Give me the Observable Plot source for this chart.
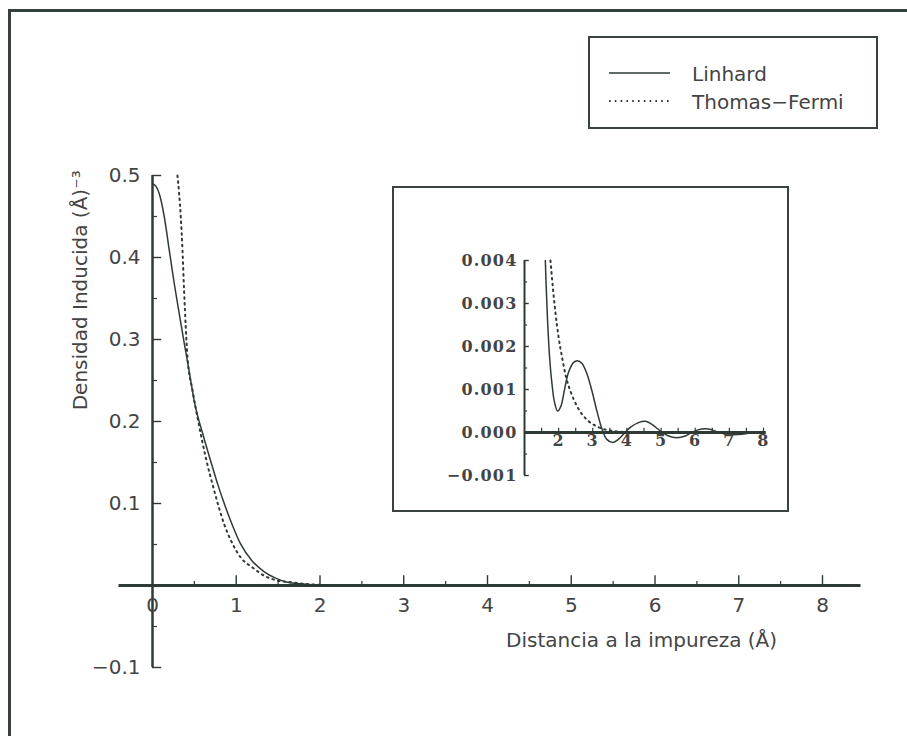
<!DOCTYPE html>
<html>
<head>
<meta charset="utf-8">
<script src="https://cdn.jsdelivr.net/npm/d3@7"></script>
<script src="https://cdn.jsdelivr.net/npm/@observablehq/plot@0.6"></script>
<style>
  html, body { margin: 0; padding: 0; background: #fff; }
  #page { position: relative; width: 907px; height: 736px; overflow: hidden; background: #fff; }
  #frame { position: absolute; left: 8px; top: 9px; width: 1000px; height: 800px;
           border-left: 3px solid #36413b; border-top: 3px solid #36413b; }
  #main { position: absolute; left: 0; top: 0; }
  #legend { position: absolute; left: 588px; top: 36px; width: 290px; height: 93px;
            box-sizing: border-box; border: 2px solid #3a433e; background: #fff; }
  #inset { position: absolute; left: 392px; top: 186px; width: 397px; height: 326px;
           box-sizing: border-box; border: 2px solid #3a433e; background: #fff; }
  #insetPlot { position: absolute; left: 392px; top: 186px; }
</style>
</head>
<body>
<div id="page">
  <div id="frame"></div>
  <div id="main"></div>
  <div id="legend"></div>
  <div id="inset"></div>
  <div id="insetPlot"></div>
</div>
<script>
// Induced electron density around an impurity: Linhard response vs Thomas-Fermi screening.

// Main panel, distance in Å
const linhardMain = [
  [0.00, 0.490], [0.04, 0.487], [0.08, 0.478], [0.14, 0.450], [0.20, 0.409],
  [0.26, 0.368], [0.32, 0.331], [0.38, 0.295], [0.44, 0.260], [0.50, 0.224],
  [0.60, 0.185], [0.70, 0.150], [0.78, 0.123], [0.86, 0.099], [0.96, 0.072],
  [1.05, 0.051], [1.19, 0.030], [1.33, 0.017], [1.47, 0.009], [1.61, 0.004],
  [1.77, 0.002], [1.95, 0.0005], [2.10, 0.0]
];
const thomasFermiMain = [
  [0.298, 0.500], [0.318, 0.478], [0.338, 0.449], [0.358, 0.409], [0.377, 0.360],
  [0.397, 0.315], [0.418, 0.278], [0.478, 0.238], [0.537, 0.205], [0.636, 0.156],
  [0.736, 0.116], [0.855, 0.075], [0.955, 0.051], [1.054, 0.034], [1.194, 0.022],
  [1.333, 0.012], [1.493, 0.006], [1.651, 0.004], [1.81, 0.002], [1.97, 0.001],
  [2.10, 0.0]
];

// Inset: tail of the density, 1–8 Å
const linhardInset = [
  [1.61, 0.00400], [1.64, 0.00330], [1.68, 0.00253], [1.735, 0.00175], [1.805, 0.00113],
  [1.88, 0.00070], [1.97, 0.00050], [2.07, 0.00062], [2.165, 0.00097], [2.29, 0.00140],
  [2.44, 0.00163], [2.55, 0.00167], [2.68, 0.00161], [2.83, 0.00136], [2.975, 0.00097],
  [3.12, 0.00050], [3.27, 0.00008], [3.41, -0.00016], [3.59, -0.00023], [3.75, -0.00016],
  [3.90, -0.00004], [4.10, 0.00012], [4.34, 0.00023], [4.54, 0.00026], [4.73, 0.00019],
  [4.97, 0.00004], [5.22, -0.00008], [5.46, -0.00012], [5.71, -0.00008], [5.95, 0.00002],
  [6.19, 0.00008], [6.39, 0.00008], [6.63, 0.00002], [6.88, -0.00004], [7.12, -0.00005],
  [7.37, -0.00004], [7.61, -0.00001]
];
const thomasFermiInset = [
  [1.76, 0.00400], [1.83, 0.00338], [1.91, 0.00276], [2.00, 0.00221], [2.10, 0.00175],
  [2.22, 0.00128], [2.36, 0.00093], [2.52, 0.00064], [2.68, 0.00043], [2.88, 0.00026],
  [3.12, 0.00014], [3.41, 0.00006], [3.80, 0.00002], [4.29, 0.0], [7.60, 0.0]
];

// Axis ticks and labels
const mainXTicks = [0, 1, 2, 3, 4, 5, 6, 7, 8];
const mainXTickLabels = ["0", "1", "2", "3", "4", "5", "6", "7", "8"];
const mainXMinor = [0.5, 1.5, 2.5, 3.5, 4.5, 5.5, 6.5, 7.5];
const mainYTicks = [-0.1, 0.1, 0.2, 0.3, 0.4, 0.5];
const mainYTickLabels = ["−0.1", "0.1", "0.2", "0.3", "0.4", "0.5"];
const mainYMajor = [-0.1, 0, 0.1, 0.2, 0.3, 0.4, 0.5];
const mainYMinor = [-0.05, 0.05, 0.15, 0.25, 0.35, 0.45];

const insetXTicks = [2, 3, 4, 5, 6, 7, 8];
const insetXTickLabels = ["2", "3", "4", "5", "6", "7", "8"];
const insetXMinor = [1.5, 2, 2.5, 3, 3.5, 4, 4.5, 5, 5.5, 6, 6.5, 7, 7.5, 8];
const insetYTicks = [-0.001, 0, 0.001, 0.002, 0.003, 0.004];
const insetYTickLabels = ["−0.001", "0.000", "0.001", "0.002", "0.003", "0.004"];
const insetYMinor = [-0.0005, 0.0005, 0.0015, 0.0025, 0.0035];

const seriesNames = ["Linhard", "Thomas−Fermi"];
const xTitle = "Distancia a la impureza (Å)";
const yTitle = "Densidad Inducida (Å)⁻³";

const ink = "#2f3a34";
const textInk = "#444";
const sans = "'DejaVu Sans', sans-serif";
const serif = "'DejaVu Serif', serif";
const dots = "1.6,4.2";

const main = Plot.plot({
  width: 907,
  height: 736,
  marginLeft: 152,
  marginRight: 85,
  marginTop: 175,
  marginBottom: 69,
  x: {domain: [0, 8], axis: null},
  y: {domain: [-0.1, 0.5], axis: null},
  style: {background: "transparent", overflow: "visible"},
  marks: [
    // axes through the origin
    Plot.ruleY([0], {x1: -0.40, x2: 8.46, stroke: ink, strokeWidth: 3}),
    Plot.ruleX([0], {y1: -0.1, y2: 0.5, stroke: ink, strokeWidth: 2.5}),
    Plot.ruleX(mainXTicks.slice(1), {x: d => d, y1: 0, y2: 0.012, stroke: ink, strokeWidth: 1.4}),
    Plot.ruleX(mainXMinor, {x: d => d, y1: 0, y2: 0.005, stroke: ink, strokeWidth: 1.2}),
    Plot.ruleY(mainYMajor, {y: d => d, x1: 0, x2: 0.11, stroke: ink, strokeWidth: 1.4}),
    Plot.ruleY(mainYMinor, {y: d => d, x1: 0, x2: 0.06, stroke: ink, strokeWidth: 1.2}),
    // curves
    Plot.line(thomasFermiMain, {x: d => d[0], y: d => d[1], stroke: ink, strokeWidth: 2,
      strokeDasharray: dots, curve: "monotone-x"}),
    Plot.line(linhardMain, {x: d => d[0], y: d => d[1], stroke: ink, strokeWidth: 1.5,
      curve: "monotone-x"}),
    // tick labels
    Plot.text(mainXTicks, {x: d => d, y: 0, dy: 20, text: (d, i) => mainXTickLabels[i],
      fill: textInk, fontSize: 20, fontFamily: sans}),
    Plot.text(mainYTicks, {x: 0, y: d => d, dx: -12, textAnchor: "end",
      text: (d, i) => mainYTickLabels[i], fill: textInk, fontSize: 20, fontFamily: sans}),
    // axis titles
    Plot.text([xTitle], {x: 5.84, y: -0.067, text: d => d, fill: textInk, fontSize: 20,
      fontFamily: sans}),
    Plot.text([yTitle], {frameAnchor: "left", y: 0.36, dx: -72, rotate: -90, textAnchor: "middle",
      text: d => d, fill: textInk, fontSize: 20, fontFamily: sans})
  ]
});
document.getElementById("main").appendChild(main);

const inset = Plot.plot({
  width: 396,
  height: 325,
  marginLeft: 132,
  marginRight: 25,
  marginTop: 74,
  marginBottom: 36,
  x: {domain: [1, 8], axis: null},
  y: {domain: [-0.001, 0.004], axis: null},
  style: {background: "transparent", overflow: "visible", letterSpacing: "1.2px"},
  marks: [
    Plot.ruleY([0], {x1: 1, x2: 8.08, stroke: ink, strokeWidth: 3}),
    Plot.ruleX([1], {y1: -0.001, y2: 0.004, stroke: ink, strokeWidth: 2}),
    Plot.ruleX(insetXMinor, {x: d => d, y1: 0, y2: 0.0001, stroke: ink, strokeWidth: 1.2}),
    Plot.ruleY(insetYTicks, {y: d => d, x1: 1, x2: 1.14, stroke: ink, strokeWidth: 1.4}),
    Plot.ruleY(insetYMinor, {y: d => d, x1: 1, x2: 1.09, stroke: ink, strokeWidth: 1.2}),
    Plot.line(thomasFermiInset, {x: d => d[0], y: d => d[1], stroke: ink, strokeWidth: 2,
      strokeDasharray: dots, curve: "monotone-x"}),
    Plot.line(linhardInset, {x: d => d[0], y: d => d[1], stroke: ink, strokeWidth: 1.5,
      curve: "catmull-rom"}),
    Plot.text(insetXTicks, {x: d => d, y: 0, dy: 8, text: (d, i) => insetXTickLabels[i],
      fill: textInk, fontSize: 16, fontWeight: "bold", fontFamily: serif}),
    Plot.text(insetYTicks, {x: 1, y: d => d, dx: -7, textAnchor: "end",
      text: (d, i) => insetYTickLabels[i], fill: textInk, fontSize: 16, fontWeight: "bold",
      fontFamily: serif})
  ]
});
document.getElementById("insetPlot").appendChild(inset);

// Legend
const legendSvg = d3.select("#legend").append("svg")
  .attr("width", 286).attr("height", 89)
  .style("position", "absolute").style("left", "0").style("top", "0");
const legendRows = seriesNames.map((name, i) => ({name, dash: i === 0 ? null : dots, y: 35 + 28 * i}));
const row = legendSvg.selectAll("g").data(legendRows).join("g");
row.append("line")
  .attr("x1", 19).attr("x2", 80)
  .attr("y1", d => d.y).attr("y2", d => d.y)
  .attr("stroke", ink).attr("stroke-width", d => d.dash ? 2 : 1.5)
  .attr("stroke-dasharray", d => d.dash);
row.append("text")
  .attr("x", 102).attr("y", d => d.y + 2)
  .attr("dominant-baseline", "middle")
  .attr("font-family", sans).attr("font-size", 20).attr("fill", textInk)
  .text(d => d.name);
</script>
</body>
</html>
